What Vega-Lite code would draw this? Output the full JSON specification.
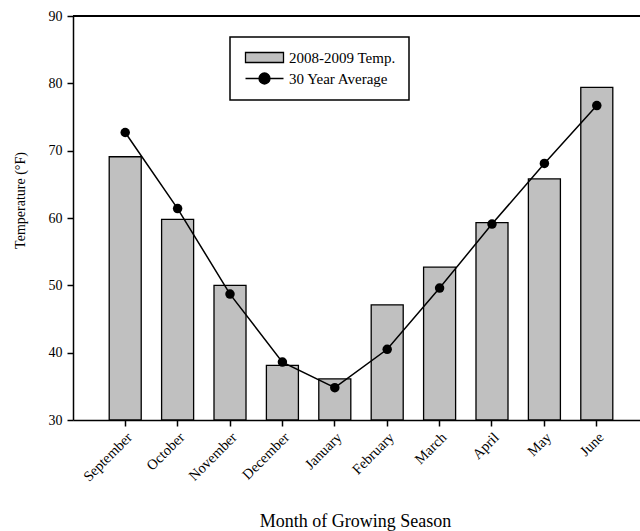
{
  "$schema": "https://vega.github.io/schema/vega-lite/v6.json",
  "autosize": {"type": "none"},
  "padding": {"left": 73, "top": 16, "right": 0, "bottom": 111},
  "width": 567,
  "height": 404,
  "background": "white",
  "view": {"stroke": null},
  "config": {
    "font": "Liberation Serif",
    "axis": {
      "domainColor": "black",
      "domainWidth": 1.5,
      "tickColor": "black",
      "tickWidth": 1.5,
      "tickSize": 6,
      "labelColor": "black",
      "labelFont": "Liberation Serif",
      "titleColor": "black",
      "titleFont": "Liberation Serif",
      "titleFontWeight": "normal",
      "grid": false
    }
  },
  "data": {
    "values": [
      {"month": "September", "temp": 69.1, "avg": 72.7},
      {"month": "October", "temp": 59.8, "avg": 61.4},
      {"month": "November", "temp": 50.0, "avg": 48.7},
      {"month": "December", "temp": 38.1, "avg": 38.6},
      {"month": "January", "temp": 36.1, "avg": 34.8},
      {"month": "February", "temp": 47.1, "avg": 40.5},
      {"month": "March", "temp": 52.7, "avg": 49.6},
      {"month": "April", "temp": 59.3, "avg": 59.1},
      {"month": "May", "temp": 65.8, "avg": 68.1},
      {"month": "June", "temp": 79.4, "avg": 76.7}
    ]
  },
  "layer": [
    {
      "mark": {"type": "bar", "stroke": "black", "strokeWidth": 1.3},
      "encoding": {
        "x": {
          "field": "month",
          "type": "nominal",
          "sort": null,
          "scale": {"paddingInner": 0.389, "paddingOuter": 0.605, "align": 0.571},
          "axis": {
            "title": "Month of Growing Season",
            "titleFontSize": 18,
            "titleX": 282,
            "titleY": 106,
            "titleAlign": "center",
            "titleBaseline": "alphabetic",
            "labelAngle": -45,
            "labelFontSize": 14.5,
            "labelPadding": 4
          }
        },
        "y": {
          "field": "temp",
          "type": "quantitative",
          "scale": {"domain": [30, 90], "nice": false, "zero": false},
          "axis": {
            "values": [30, 40, 50, 60, 70, 80, 90],
            "title": "Temperature (°F)",
            "titleFontSize": 14,
            "titleAngle": 270,
            "titleX": -53,
            "titleY": 184,
            "titleBaseline": "middle",
            "titleAlign": "center",
            "labelFontSize": 14,
            "labelPadding": 5
          }
        },
        "y2": {"datum": 30},
        "fill": {
          "datum": "2008-2009 Temp.",
          "type": "nominal",
          "scale": {
            "domain": ["2008-2009 Temp.", "30 Year Average"],
            "range": ["#c0c0c0", "black"]
          },
          "legend": {
            "title": null,
            "orient": "none",
            "legendX": 157,
            "legendY": 21,
            "strokeColor": "black",
            "padding": 13,
            "rowPadding": 4,
            "symbolSize": 100,
            "symbolStrokeColor": "black",
            "symbolStrokeWidth": 1.3,
            "labelFont": "Liberation Serif",
            "labelFontSize": 15,
            "labelColor": "black",
            "labelOffset": 31,
            "encode": {
              "legend": {"update": {"strokeWidth": {"value": 1.5}}},
              "symbols": {
                "update": {
                  "shape": {"signal": "datum.value === '30 Year Average' ? 'M-1,0H6.6M1.7,0A1.1,1.1 0 1,0 3.9,0A1.1,1.1 0 1,0 1.7,0Z' : 'M-1,-1H6.6V1H-1Z'"}
                }
              }
            }
          }
        }
      }
    },
    {
      "mark": {"type": "line", "color": "black", "strokeWidth": 1.5},
      "encoding": {
        "x": {"field": "month", "type": "nominal", "sort": null},
        "y": {"field": "avg", "type": "quantitative"}
      }
    },
    {
      "mark": {"type": "point", "filled": true, "color": "black", "opacity": 1, "size": 90},
      "encoding": {
        "x": {"field": "month", "type": "nominal", "sort": null},
        "y": {"field": "avg", "type": "quantitative"}
      }
    },
    {
      "mark": {"type": "rule", "color": "black", "strokeWidth": 1.5},
      "encoding": {"y": {"datum": 90}}
    }
  ]
}
